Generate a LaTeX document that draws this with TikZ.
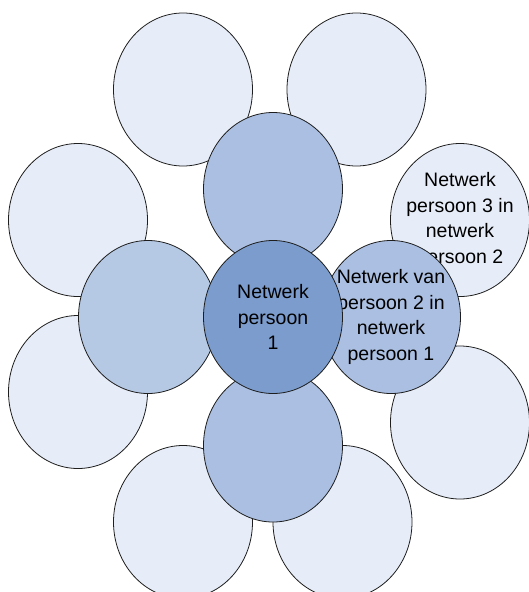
\documentclass[tikz,border=0pt]{standalone}
\usepackage{fontspec}
\setmainfont{Liberation Sans}
\usepackage{xcolor}
\definecolor{pale}{RGB}{231,237,248}
\definecolor{mid}{RGB}{170,191,225}
\definecolor{midleft}{RGB}{181,200,228}
\definecolor{core}{RGB}{123,156,204}
\definecolor{rim}{RGB}{30,30,30}
\usetikzlibrary{shapes.geometric}

\begin{document}
\begin{tikzpicture}[
  x=1pt, y=-1pt,
  blob/.style={ellipse,draw=rim,line width=0.8pt,inner sep=0pt,
               minimum width=139pt,minimum height=153pt},
  outer/.style={blob,fill=pale},
  inner/.style={blob,fill=mid},
  hub/.style={blob,fill=core},
  lbl/.style={align=center,font=\fontsize{19.5}{25.5}\selectfont,inner sep=0pt},
]
  \useasboundingbox (0,0) rectangle (529,592);
  \clip (0,0) rectangle (529,592);
  %% outer ring
  \node[outer] (topleft)  at (183,89.5) {};
  \node[outer] (topright) at (356.5,89.5) {};
  \node[outer] (leftup)   at (78,220) {};
  \node[outer] (rightup)  at (460,220) {};
  \node[outer] (leftlow)  at (78,392) {};
  \node[outer] (rightlow) at (460,422.5) {};
  \node[outer] (botleft)  at (183,522) {};
  \node[outer] (botright) at (342.5,522) {};
  \node[lbl] (rightuptxt) at (rightup) {Netwerk\\persoon 3 in\\netwerk\\persoon 2};
  %% inner ring
  \node[inner] (top)    at (273,189) {};
  \node[blob,fill=midleft] (left) at (148,317) {};
  \node[inner] (bottom) at (273,445.5) {};
  \node[inner] (right)  at (391,317) {};
  \node[lbl] (righttxt) at (right) {Netwerk van\\persoon 2 in\\netwerk\\persoon 1};
  %% centre
  \node[hub] (centre) at (273,317) {};
  \node[lbl] (centretxt) at (centre) {Netwerk\\persoon\\1};
\end{tikzpicture}
\end{document}
